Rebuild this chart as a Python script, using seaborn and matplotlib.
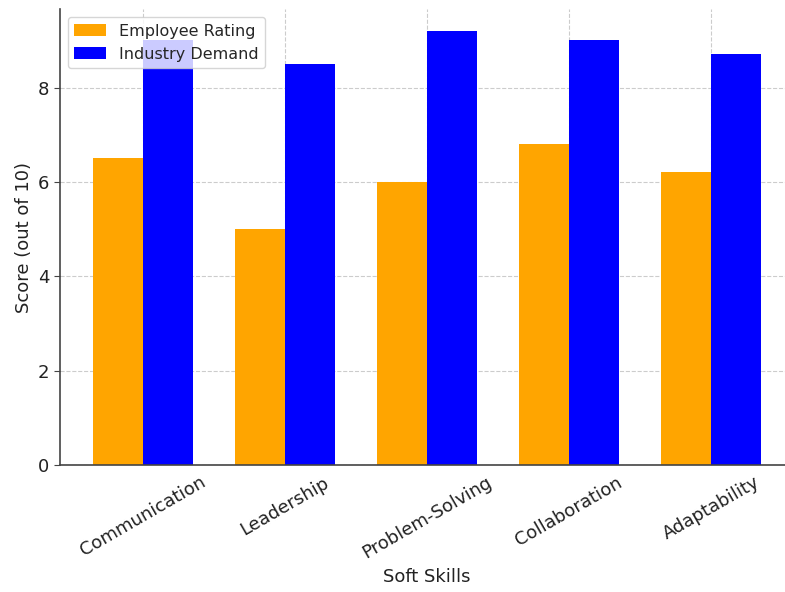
import pandas as pd
import matplotlib
matplotlib.use('Agg')
import matplotlib.pyplot as plt
import seaborn as sns

# 数据
skills = ['Communication', 'Leadership', 'Problem-Solving', 'Collaboration', 'Adaptability']
employee_rating = [6.5, 5.0, 6.0, 6.8, 6.2]
industry_demand = [9.0, 8.5, 9.2, 9.0, 8.7]

df = pd.DataFrame({
    'Soft Skills': skills * 2,
    'Score': employee_rating + industry_demand,
    'Series': ['Employee Rating'] * len(skills) + ['Industry Demand'] * len(skills),
})

sns.set_style('ticks')
plt.rcParams['font.family'] = ['DejaVu Sans']

fig = plt.figure(figsize=(7.85, 5.92), dpi=100)
ax = fig.add_axes([0.0764, 0.2145, 0.935, 0.770])

sns.barplot(data=df, x='Soft Skills', y='Score', hue='Series',
            palette={'Employee Rating': 'orange', 'Industry Demand': 'blue'},
            width=0.7, saturation=1, linewidth=0, ax=ax, zorder=2)

ax.set_xlim(-0.585, 4.585)
ax.set_ylim(0, 9.66)
ax.set_yticks([0, 2, 4, 6, 8])
ax.grid(True, linestyle='--', color='#cccccc', linewidth=0.8, zorder=0)
ax.set_axisbelow(True)
for s in ['top', 'right']:
    ax.spines[s].set_visible(False)
for s in ['left', 'bottom']:
    ax.spines[s].set_color('#444444')
    ax.spines[s].set_linewidth(1.2)
ax.tick_params(axis='x', length=0, pad=6)
ax.tick_params(axis='y', length=4, color='#444444')

ax.set_xlabel('Soft Skills', fontsize=13, color='#222222')
ax.set_ylabel('Score (out of 10)', fontsize=13, color='#222222')
plt.setp(ax.get_xticklabels(), rotation=30, fontsize=13, color='#222222')
plt.setp(ax.get_yticklabels(), fontsize=13, color='#222222')

ax.legend(loc='upper left', fontsize=11.5, title=None, framealpha=0.8)

fig.savefig('out.png', dpi=100)
